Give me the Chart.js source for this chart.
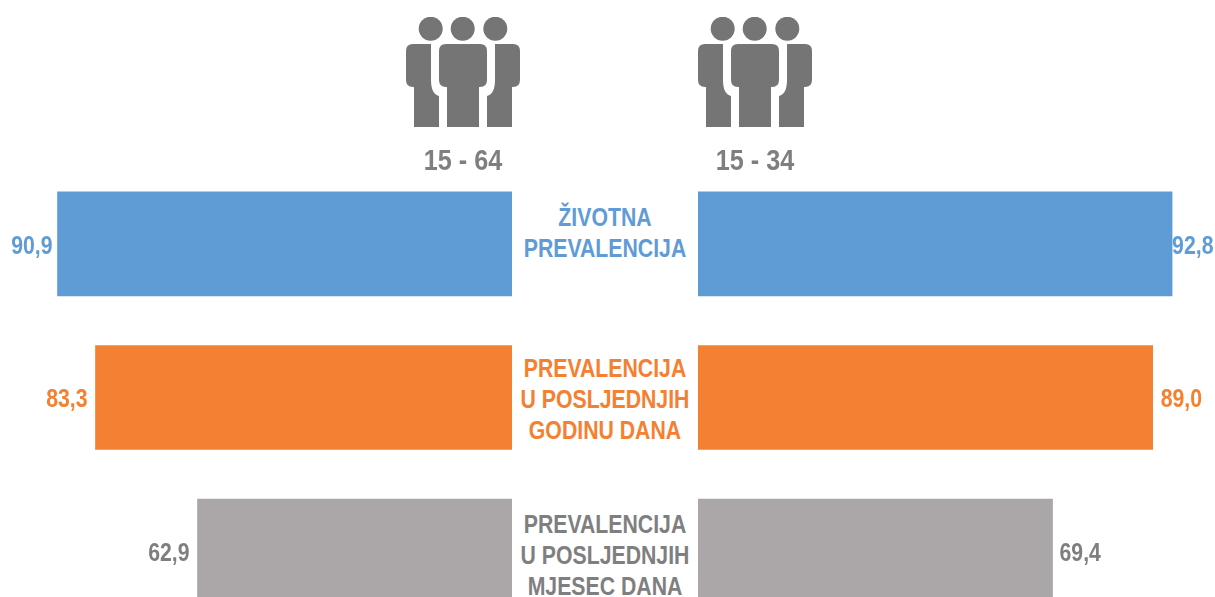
<!DOCTYPE html>
<html>
<head>
<meta charset="utf-8">
<script src="https://cdn.jsdelivr.net/npm/chart.js@4"></script>
<style>
html, body { margin: 0; padding: 0; width: 1215px; height: 597px; overflow: hidden; background: #fff; }
body { position: relative; font-family: "Liberation Sans", sans-serif; font-weight: bold; }
canvas { position: absolute; top: 167px; }
#leftChart { left: 0; }
#rightChart { left: 698px; }
.icon { position: absolute; top: 17px; width: 114px; height: 110px; }
.group { position: absolute; top: 143px; width: 120px; text-align: center; font-size: 30px; line-height: 34px; color: #7f7f7f; transform: scaleX(0.84); }
.cat { position: absolute; left: 505px; width: 200px; text-align: center; font-size: 25px; line-height: 31px; transform: scaleX(0.85); white-space: nowrap; }
</style>
</head>
<body>
<svg width="0" height="0" style="position:absolute">
  <symbol id="people" viewBox="0 17 114 110">
    <circle cx="24.7" cy="28.7" r="12"/>
    <circle cx="56.7" cy="28.7" r="12"/>
    <circle cx="89.3" cy="28.7" r="12"/>
    <path d="M40 44 H74 Q81 44 81 51 V80 Q81 87 74 87 H73 V127 H41 V87 H40 Q33 87 33 80 V51 Q33 44 40 44 Z"/>
    <path d="M7 44 H25 V80 Q25 94 33 96 V127 H8 V87 H7 Q0 87 0 80 V51 Q0 44 7 44 Z"/>
    <path d="M107 44 H89 V80 Q89 94 81 96 V127 H106 V87 H107 Q114 87 114 80 V51 Q114 44 107 44 Z"/>
  </symbol>
</svg>
<canvas id="leftChart" width="512" height="461"></canvas>
<canvas id="rightChart" width="517" height="461"></canvas>
<script>
const categories = ['ŽIVOTNA\nPREVALENCIJA', 'PREVALENCIJA\nU POSLJEDNJIH\nGODINU DANA', 'PREVALENCIJA\nU POSLJEDNJIH\nMJESEC DANA'];
const groups = ['15 - 64', '15 - 34'];
const values1564 = [90.9, 83.3, 62.9];
const values1534 = [92.8, 89.0, 69.4];
const barColors = ['#5f9cd6', '#f48032', '#aba7a9'];
const textColors = ['#5f9cd6', '#f48032', '#7f7f7f'];

// gap between bar end and its value, differs per row in the original
const gaps1564 = [5, 8, 8];
const gaps1534 = [0, 8, 7];

const valueLabels = {
    id: 'valueLabels',
    afterDatasetsDraw(chart, args, opts) {
        const c = chart.ctx;
        const bars = chart.getDatasetMeta(0).data;
        bars.forEach((bar, i) => {
            const value = chart.data.datasets[0].data[i];
            const x = opts.side === 'left' ? bar.x - opts.gaps[i] : bar.x + opts.gaps[i];
            c.save();
            c.font = 'bold 25px "Liberation Sans", sans-serif';
            c.textBaseline = 'middle';
            c.textAlign = opts.side === 'left' ? 'right' : 'left';
            c.fillStyle = textColors[i];
            // the original type is condensed, so squeeze it
            c.translate(x, bar.y + 3);
            c.scale(0.85, 1);
            c.fillText(value.toFixed(1).replace('.', ','), 0, 0);
            c.restore();
        });
    }
};

function makeChart(id, values, axisMax, reverse, gaps) {
    return new Chart(document.getElementById(id), {
        type: 'bar',
        data: {
            labels: categories,
            datasets: [{ data: values, backgroundColor: barColors, barThickness: 104 }]
        },
        options: {
            indexAxis: 'y',
            responsive: false,
            animation: false,
            layout: { padding: 0 },
            scales: {
                x: { display: false, min: 0, max: axisMax, reverse: reverse },
                y: { display: false }
            },
            plugins: {
                legend: { display: false },
                tooltip: { enabled: false },
                valueLabels: { side: reverse ? 'left' : 'right', gaps: gaps }
            }
        },
        plugins: [valueLabels]
    });
}

makeChart('leftChart', values1564, 102.4, true, gaps1564);
makeChart('rightChart', values1534, 101.2, false, gaps1534);

// icons and group headers
[[406, 462.5], [698, 754.5]].forEach(([iconX, textX], i) => {
    document.body.insertAdjacentHTML('beforeend',
        `<svg class="icon" style="left:${iconX}px" fill="#757575"><use href="#people"/></svg>` +
        `<div class="group" style="left:${textX - 60}px">${groups[i]}</div>`);
});

// centre labels between the two halves
const catTops = [202, 353, 509];
categories.forEach((cat, i) => {
    document.body.insertAdjacentHTML('beforeend',
        `<div class="cat" style="top:${catTops[i]}px;color:${textColors[i]}">${cat.replace(/\n/g, '<br>')}</div>`);
});
</script>
</body>
</html>
